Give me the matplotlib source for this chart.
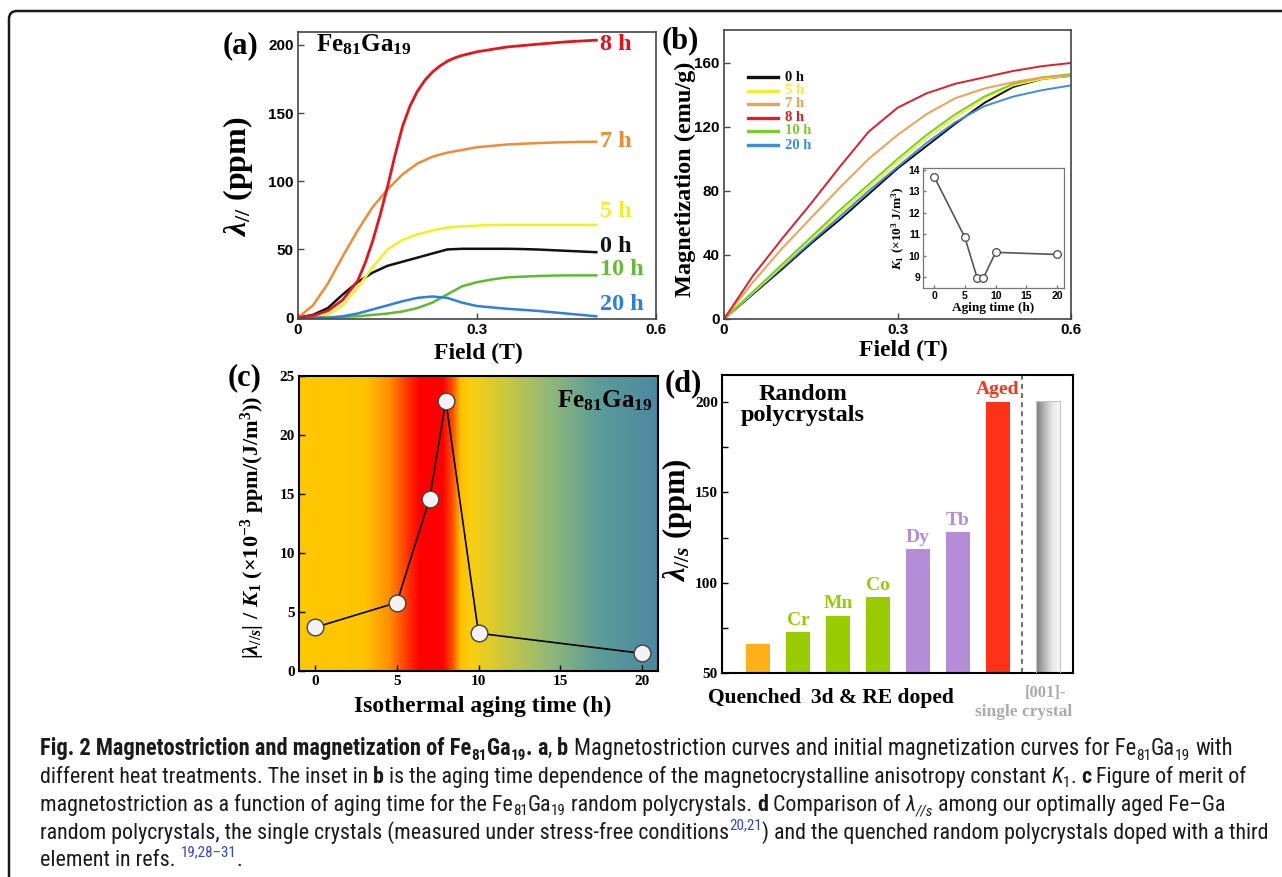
import numpy as np
import matplotlib
matplotlib.use("Agg")
import matplotlib.pyplot as plt
from matplotlib import font_manager
from matplotlib.font_manager import FontProperties
from matplotlib.colors import LinearSegmentedColormap
from matplotlib.patches import FancyBboxPatch
from matplotlib.transforms import IdentityTransform
from matplotlib.lines import Line2D
from matplotlib.text import Text

# ---------------- data ----------------
# (a) magnetostriction curves
a_field = [0, 0.025, 0.05, 0.075, 0.1, 0.125, 0.15, 0.175, 0.2, 0.225, 0.25, 0.275,
           0.3, 0.325, 0.35, 0.375, 0.4, 0.425, 0.45, 0.475, 0.5]
a_0h = [0, 2, 7, 17, 26, 33, 38, 41, 44, 47, 50, 50.5, 50.5, 50.5, 50.5, 50.3, 50, 49.5, 49, 48.5, 48]
a_5h = [0, 0.5, 2, 9, 22, 37, 50, 57, 61, 64, 66, 67, 67.5, 68, 68, 68, 68, 68, 68, 68, 68]
a_7h = [0, 9, 25, 45, 64, 81, 94, 105, 113, 118, 121, 123, 125, 126, 127, 127.5, 128, 128.4, 128.7, 128.9, 129]
a_10h = [0, 0, 0, 0.5, 1, 2, 3, 4.5, 7, 11, 17, 23, 26, 28, 29.5, 30, 30.5, 30.8, 31, 31, 31]
a_20h = [0, 0, 0, 1, 3, 6, 9, 12, 14.5, 15.5, 14.5, 11, 8.5, 7.5, 6.5, 5.8, 5, 4, 3, 2, 1]
a_field_8h = [0, 0.025, 0.05, 0.075, 0.1, 0.1125, 0.125, 0.1375, 0.15, 0.1625, 0.175, 0.1875,
              0.2, 0.2125, 0.225, 0.2375, 0.25, 0.2625, 0.275, 0.3, 0.35, 0.4, 0.45, 0.5]
a_8h = [0, 1.5, 5, 13, 27, 40, 56, 75, 96, 119, 140, 155, 166, 174, 180, 184.5, 188, 190.5, 192.3,
        195, 198.5, 200.5, 202.3, 203.5]
a_labels = ["0 h", "5 h", "7 h", "8 h", "10 h", "20 h"]
a_label_y = [52.5, 78, 129, 200, 35, 10]

# (b) initial magnetization curves
b_field = [0, 0.05, 0.1, 0.15, 0.2, 0.25, 0.3, 0.35, 0.4, 0.45, 0.5, 0.55, 0.6]
b_0h = [0, 15.5, 31, 47, 62, 78, 94, 108, 122, 135, 145, 150, 152]
b_5h = [0, 16.5, 33, 50, 66, 82, 98, 113, 126, 138, 146, 150, 152]
b_7h = [0, 23, 44, 63, 82, 100, 115, 128, 138, 144, 148, 151, 152]
b_8h = [0, 27, 50, 72, 95, 117, 132, 141, 147, 151, 155, 158, 160]
b_10h = [0, 17, 34, 51, 68, 84, 100, 115, 128, 139, 147, 151, 153]
b_20h = [0, 16, 32, 48, 64, 80, 95, 110, 123, 133, 139, 143, 146]

# inset K1
inset_t = [0, 5, 7, 8, 10, 20]
inset_K1 = [13.7, 10.85, 8.95, 8.95, 10.15, 10.05]

# (c) figure of merit
c_t = [0, 5, 7, 8, 10, 20]
c_fom = [3.7, 5.8, 14.6, 22.9, 3.2, 1.5]

# (d) bars
d_labels = ["", "Cr", "Mn", "Co", "Dy", "Tb", "Aged"]
d_values = [66, 72.5, 81.5, 92, 118.5, 128, 200]
d_single = 200.5

# ---------------- style ----------------
W, H = 1282, 877
plt.rcParams["mathtext.fontset"] = "custom"
plt.rcParams["mathtext.rm"] = "Liberation Serif:bold"
plt.rcParams["mathtext.it"] = "Liberation Serif:italic:bold"
plt.rcParams["mathtext.bf"] = "Liberation Serif:bold"
plt.rcParams["font.family"] = ["Liberation Serif", "DejaVu Sans"]
plt.rcParams["font.weight"] = "bold"

SERIF = "Liberation Serif"
SANS = "Liberation Sans"

fig = plt.figure(figsize=(W / 100, H / 100), dpi=100)
fig.patch.set_facecolor("white")


def rect(l, t, r, b):
    return [l / W, 1 - b / H, (r - l) / W, (b - t) / H]


def ftext(x, y, s, **kw):
    return fig.text(x / W, 1 - y / H, s, **kw)


def style_axes(ax, spine_color, lw, tickfont, ticksize):
    for sp in ax.spines.values():
        sp.set_color(spine_color)
        sp.set_linewidth(lw)
    ax.tick_params(direction="in", length=4, width=1, colors=spine_color,
                   labelcolor="black", labelsize=ticksize, pad=3)
    for lab in ax.get_xticklabels() + ax.get_yticklabels():
        lab.set_fontfamily(tickfont)
        lab.set_fontweight("bold")


# ---------------- (a) ----------------
axA = fig.add_axes(rect(298, 32, 656, 319))
colA = {"0 h": "#111111", "5 h": "#F4F01E", "7 h": "#F08C32", "8 h": "#E8141C",
        "10 h": "#5EBB2E", "20 h": "#2C80E0"}
labcolA = {"0 h": "#111111", "5 h": "#EEEE2A", "7 h": "#F08A2E", "8 h": "#E4101A",
           "10 h": "#66BB33", "20 h": "#2A7FE0"}
axA.plot(a_field, a_0h, color=colA["0 h"], lw=1.8)
axA.plot(a_field, a_5h, color=colA["5 h"], lw=1.8)
axA.plot(a_field, a_7h, color=colA["7 h"], lw=1.8)
axA.plot(a_field, a_10h, color=colA["10 h"], lw=1.8)
axA.plot(a_field, a_20h, color=colA["20 h"], lw=1.8)
axA.plot(a_field_8h, a_8h, color=colA["8 h"], lw=2.0)
axA.set_xlim(0, 0.6)
axA.set_ylim(-1, 209.5)
axA.set_xticks([0, 0.3, 0.6])
axA.set_xticklabels(["0", "0.3", "0.6"])
axA.set_yticks([0, 50, 100, 150, 200])
style_axes(axA, "#444444", 1.2, SANS, 11)
for lab, yv in zip(a_labels, a_label_y):
    axA.text(0.506, yv, lab, color=labcolA[lab], fontsize=17.5, fontweight="bold",
             fontfamily=SERIF, va="center", ha="left")
axA.text(0.03, 200, "Fe$_{81}$Ga$_{19}$", fontsize=18, fontfamily=SERIF,
         fontweight="bold", va="center", ha="left")
ftext(240, 46, "(a)", fontsize=22, fontweight="bold", fontfamily=SERIF, ha="center", va="center")
ftext(238, 177, r"$\lambda_{//}$ (ppm)", fontsize=23, fontweight="bold", fontfamily=SERIF,
      rotation=90, ha="center", va="center")
ftext(478, 353, "Field (T)", fontsize=17, fontweight="bold", fontfamily=SERIF,
      ha="center", va="center")

# ---------------- (b) ----------------
axB = fig.add_axes(rect(724, 30, 1071, 319))
colB = {"0 h": "#111111", "5 h": "#F2EE30", "7 h": "#F0A050", "8 h": "#E01E2A",
        "10 h": "#7ACC2A", "20 h": "#3A8EE0"}
axB.plot(b_field, b_0h, color=colB["0 h"], lw=1.4)
axB.plot(b_field, b_20h, color=colB["20 h"], lw=1.4)
axB.plot(b_field, b_5h, color=colB["5 h"], lw=1.4)
axB.plot(b_field, b_10h, color=colB["10 h"], lw=1.4)
axB.plot(b_field, b_7h, color=colB["7 h"], lw=1.4)
axB.plot(b_field, b_8h, color=colB["8 h"], lw=1.4)
axB.set_xlim(0, 0.6)
axB.set_ylim(0, 180.6)
axB.set_xticks([0, 0.3, 0.6])
axB.set_xticklabels(["0", "0.3", "0.6"])
axB.set_yticks([0, 40, 80, 120, 160])
style_axes(axB, "#444444", 1.2, SANS, 11)
leg_y = [0.837, 0.789, 0.744, 0.696, 0.651, 0.602]
for key, yy in zip(["0 h", "5 h", "7 h", "8 h", "10 h", "20 h"], leg_y):
    axB.add_line(Line2D([0.069, 0.156], [yy, yy], transform=axB.transAxes,
                        color=colB[key], lw=2.4))
    axB.text(0.176, yy, key, transform=axB.transAxes, color=colB[key], fontsize=10.5,
             fontweight="bold", fontfamily=SERIF, va="center", ha="left")
ftext(680, 41, "(b)", fontsize=22, fontweight="bold", fontfamily=SERIF, ha="center", va="center")
ftext(685, 179, "Magnetization (emu/g)", fontsize=17.5, fontweight="bold", fontfamily=SERIF,
      rotation=90, ha="center", va="center")
ftext(903, 350, "Field (T)", fontsize=17, fontweight="bold", fontfamily=SERIF,
      ha="center", va="center")

# inset
axI = fig.add_axes(rect(923, 168, 1064, 288))
axI.plot(inset_t, inset_K1, color="#555555", lw=1.2, marker="o", markersize=5.5,
         markerfacecolor="white", markeredgecolor="#444444", markeredgewidth=0.9)
axI.set_xlim(-1.8, 21.1)
axI.set_ylim(8.48, 14.1)
axI.set_xticks([0, 5, 10, 15, 20])
axI.set_yticks([9, 10, 11, 12, 13, 14])
style_axes(axI, "#777777", 0.9, SANS, 7.5)
axI.tick_params(length=2.5, pad=2)
axI.set_xlabel("Aging time (h)", fontsize=9.5, fontweight="bold", fontfamily=SERIF, labelpad=1)
axI.set_ylabel(r"$K_1$ (×10$^3$ J/m$^3$)", fontsize=9.5, fontweight="bold",
               fontfamily=SERIF, labelpad=1)

# ---------------- (c) ----------------
axC = fig.add_axes(rect(299, 376, 658, 671))
grad_pos = [-1, 3.0, 4.5, 5.8, 6.4, 7.8, 8.4, 8.9, 9.6, 11.7, 14.4, 17.4, 21]
grad_col = ["#FFC800", "#FFC400", "#FF9000", "#FF2800", "#FF0000", "#FF0000", "#FF5000",
            "#FFC000", "#F8D010", "#C8C840", "#90B878", "#5C9C98", "#4C88A0"]
gmin, gmax = grad_pos[0], grad_pos[-1]
cmapC = LinearSegmentedColormap.from_list(
    "bgC", [((p - gmin) / (gmax - gmin), c) for p, c in zip(grad_pos, grad_col)])
axC.imshow(np.linspace(0, 1, 512)[None, :], extent=(gmin, gmax, 0, 25), aspect="auto",
           cmap=cmapC, zorder=0, interpolation="bilinear")
axC.plot(c_t, c_fom, color="black", lw=1.2, zorder=2)
axC.plot(c_t, c_fom, linestyle="none", marker="o", markersize=12, markerfacecolor="#F2F2F2",
         markeredgecolor="#444444", markeredgewidth=1.0, zorder=3)
axC.set_xlim(-1, 21)
axC.set_ylim(0, 25)
axC.set_xticks([0, 5, 10, 15, 20])
axC.set_yticks([0, 5, 10, 15, 20, 25])
style_axes(axC, "black", 1.5, SERIF, 11)
axC.text(0.985, 0.915, "Fe$_{81}$Ga$_{19}$", transform=axC.transAxes, fontsize=18,
         fontfamily=SERIF, fontweight="bold", ha="right", va="center")
ftext(245, 378, "(c)", fontsize=22, fontweight="bold", fontfamily=SERIF, ha="center", va="center")
ftext(253, 527, r"|$\lambda_{//s}$| / $K_1$ (×10$^{-3}$ ppm/(J/m$^3$))", fontsize=16,
      fontweight="bold", fontfamily=SERIF, rotation=90, ha="center", va="center")
ftext(483, 706, "Isothermal aging time (h)", fontsize=17, fontweight="bold", fontfamily=SERIF,
      ha="center", va="center")

# ---------------- (d) ----------------
axD = fig.add_axes(rect(722, 375, 1073, 673))
d_x = np.arange(len(d_values))
d_colors = ["#FFB016", "#99CC00", "#99CC00", "#99CC00", "#B48CD8", "#B48CD8", "#FF3218"]
d_textcol = ["#FFB016", "#99CC00", "#99CC00", "#99CC00", "#B48CD8", "#B48CD8", "#FF3218"]
bw = 0.62
axD.bar(d_x, d_values, width=bw, color=d_colors, zorder=2)
single_x = 7.25
sbar = axD.bar([single_x], [d_single], width=bw, color="none", edgecolor="#C4C4C4",
               linewidth=0.8, zorder=3)[0]
cmapG = LinearSegmentedColormap.from_list("gr", ["#7C7C7C", "#B4B4B4", "#E8E8E8", "#FAFAFA"])
gim = axD.imshow(np.linspace(0, 1, 256)[None, :],
                 extent=(single_x - bw / 2, single_x + bw / 2, 50, d_single),
                 aspect="auto", cmap=cmapG, zorder=2)
gim.set_clip_path(sbar)
axD.axvline(6.6, color="#555555", lw=1.2, ls=(0, (3, 2.5)), zorder=1)
for xv, v, lab, c in zip(d_x, d_values, d_labels, d_textcol):
    if lab:
        axD.text(xv, v + 2.0, lab, color=c, fontsize=14, fontweight="bold",
                 fontfamily=SERIF, ha="center", va="bottom")
axD.set_xlim(-0.9, 7.875)
axD.set_ylim(50, 215)
axD.set_xticks([])
axD.set_yticks([50, 100, 150, 200])
axD.set_yticks([75, 125, 175], minor=True)
style_axes(axD, "black", 1.5, SERIF, 11)
axD.tick_params(axis="y", which="minor", direction="in", length=4, width=1)
axD.text(0.23, 0.90, "Random\npolycrystals", transform=axD.transAxes, fontsize=17.5,
         fontweight="bold", fontfamily=SERIF, ha="center", va="center", linespacing=1.0)
ftext(683, 384, "(d)", fontsize=22, fontweight="bold", fontfamily=SERIF, ha="center", va="center")
ftext(677, 520, r"$\lambda_{//s}$ (ppm)", fontsize=22, fontweight="bold", fontfamily=SERIF,
      rotation=90, ha="center", va="center")
ftext(755, 698, "Quenched", fontsize=15.5, fontweight="bold", fontfamily=SERIF, ha="center", va="center")
ftext(882, 698, "3d & RE doped", fontsize=15.5, fontweight="bold", fontfamily=SERIF,
      ha="center", va="center")
ftext(1045, 693, "[001]-", fontsize=12, fontweight="bold", fontfamily=SERIF, color="#AAAAAA",
      ha="center", va="center")
ftext(1024, 712, "single crystal", fontsize=12.5, fontweight="bold", fontfamily=SERIF,
      color="#AAAAAA", ha="center", va="center")

# ---------------- frame ----------------
frame = FancyBboxPatch((9, -30), 1320, H - 11 + 30, boxstyle="round,pad=0,rounding_size=8",
                       transform=IdentityTransform(), facecolor="none", edgecolor="#1A1A1A",
                       linewidth=1.8, zorder=10)
fig.patches.append(frame)

# ---------------- caption ----------------
cap_family, cap_stretch = SANS, "normal"
names = {f.name: f for f in font_manager.fontManager.ttflist}
pref = ["Liberation Sans Narrow", "Roboto Condensed", "Open Sans Condensed", "Noto Sans Condensed"]
found = False
for p in pref:
    if p in names:
        cap_family, cap_stretch = p, "normal"
        found = True
        break
if not found:
    for f in font_manager.fontManager.ttflist:
        st = f.stretch if isinstance(f.stretch, str) else ""
        if st in ("condensed", "semi-condensed") and "Mono" not in f.name and "Serif" not in f.name:
            cap_family, cap_stretch = f.name, st
            found = True
            break

cap_lines = [
    [("Fig. 2 Magnetostriction and magnetization of Fe", "b"), ("81", "b sub"), ("Ga", "b"),
     ("19", "b sub"), (". ", "b"), ("a", "b"), (", ", ""), ("b", "b"),
     (" Magnetostriction curves and initial magnetization curves for Fe", ""), ("81", "sub"),
     ("Ga", ""), ("19", "sub"), (" with", "")],
    [("different heat treatments. The inset in ", ""), ("b", "b"),
     (" is the aging time dependence of the magnetocrystalline anisotropy constant ", ""),
     ("K", "i"), ("1", "sub"), (". ", ""), ("c", "b"), (" Figure of merit of", "")],
    [("magnetostriction as a function of aging time for the Fe", ""), ("81", "sub"), ("Ga", ""),
     ("19", "sub"), (" random polycrystals. ", ""), ("d", "b"), (" Comparison of ", ""),
     ("λ", "i"), ("//s", "i sub"), (" among our optimally aged Fe–Ga", "")],
    [("random polycrystals, the single crystals (measured under stress-free conditions", ""),
     ("20,21", "sup blue"), (") and the quenched random polycrystals doped with a third", "")],
    [("element in refs. ", ""), ("19,28–31", "sup blue"), (".", "")],
]
cap_base = [755, 783, 811, 839, 866]
cap_right = [1236, 1250, 1229, 1270]
CAP_X = 40

renderer = fig.canvas.get_renderer()


def fp_for(style, size):
    toks = style.split()
    s = size * (0.68 if ("sub" in toks or "sup" in toks) else 1.0)
    return FontProperties(family=[cap_family, "DejaVu Sans"], stretch=cap_stretch,
                          weight="bold" if "b" in toks else "normal",
                          style="italic" if "i" in toks else "normal", size=s)


def twidth(s, fp):
    t1 = Text(0, 0, "|" + s + "|", fontproperties=fp)
    t1.set_figure(fig)
    t0 = Text(0, 0, "||", fontproperties=fp)
    t0.set_figure(fig)
    return t1.get_window_extent(renderer).width - t0.get_window_extent(renderer).width


def line_width(runs, size):
    return sum(twidth(s, fp_for(st, size)) for s, st in runs)


s0 = 12.0
sizes = []
for i in range(4):
    sizes.append(s0 * (cap_right[i] - CAP_X) / line_width(cap_lines[i], s0))
base_size = float(np.median(sizes))
line_sizes = [float(np.clip(s, base_size * 0.97, base_size * 1.03)) for s in sizes]
line_sizes[3] = min(line_sizes[3], sizes[3])
line_sizes.append(base_size)

for runs, yb, cap_size in zip(cap_lines, cap_base, line_sizes):
    x = CAP_X
    for s, st in runs:
        toks = st.split()
        fp = fp_for(st, cap_size)
        px = cap_size * 100 / 72
        dy = 0
        if "sub" in toks:
            dy = -0.2 * px
        elif "sup" in toks:
            dy = 0.42 * px
        lead = len(s) - len(s.lstrip(" "))
        core = s.strip(" ")
        xo = x + (twidth(" " * lead, fp) if lead else 0)
        if core:
            fig.text(xo, H - yb + dy, core, fontproperties=fp, transform=IdentityTransform(),
                     color="#3344CC" if "blue" in toks else "#1A1A1A", ha="left", va="baseline")
        x += twidth(s, fp)

fig.savefig("out.png", dpi=100)
